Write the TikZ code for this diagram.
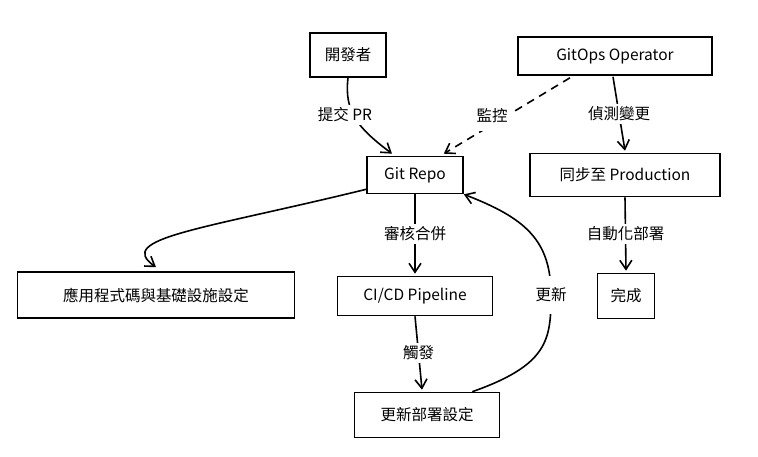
\documentclass[tikz,border=0pt]{standalone}
\usepackage{fontspec}
\setmainfont{Noto Sans CJK TC}
\usetikzlibrary{arrows.meta,calc}
\tikzset{
  box/.style={draw, line width=1.6pt, inner sep=0pt, font=\fontsize{15.5}{18}\selectfont},
  lbl/.style={fill=white, inner sep=3pt, font=\fontsize{15.5}{18}\selectfont},
  arr/.style={line width=1.6pt, -{Straight Barb[length=9pt,width=12pt,line width=1.6pt]}},
  conn/.style={line width=1.6pt}
}
\begin{document}
\begin{tikzpicture}[x=1pt,y=-1pt]
\useasboundingbox (0,0) rectangle (758,457);
% boxes
\node[box, minimum width=76pt, minimum height=44pt] (dev) at (348,55) {開發者};
\node[box, minimum width=194pt, minimum height=38pt] (ops) at (615,56) {GitOps Operator};
\node[box, minimum width=96pt, minimum height=37pt] (repo) at (415,175) {Git Repo};
\node[box, minimum width=190pt, minimum height=43pt] (sync) at (625,175) {同步至 Production};
\node[box, minimum width=277pt, minimum height=46pt] (app) at (156,295) {應用程式碼與基礎設施設定};
\node[box, minimum width=155pt, minimum height=39pt] (ci) at (415,296) {CI/CD Pipeline};
\node[box, minimum width=57pt, minimum height=45pt] (done) at (626,296) {完成};
\node[box, minimum width=145pt, minimum height=45pt] (upd) at (427,415) {更新部署設定};
% connectors
\draw[arr] (dev.south) .. controls (344,112) and (358,128) .. ($(repo.north)+(-23,-2)$);
\node[lbl] (l1) at (345,115) {提交 PR};
\draw[arr, dash pattern=on 8pt off 6pt] ($(ops.south)+(-45,2)$) -- ($(repo.north east)+(-20,-2)$);
\node[lbl, inner xsep=6pt, inner ysep=8pt] (l2) at (492,116) {監控};
\draw[arr] ($(ops.south)+(-2,1)$) -- node[lbl, pos=0.5] (l3) {偵測變更} ($(sync.north)+(0,-2)$);
\draw[arr] ($(repo.south west)+(0,-5)$) .. controls (200,230) and (115,238) .. ($(app.north)+(0,-4)$);
\draw[arr] (repo.south) -- node[lbl] (l4) {審核合併} ($(ci.north)+(0,-2)$);
\draw[arr] (ci.south) -- node[lbl] (l5) {觸發} ($(upd.north)+(-5,-2)$);
\draw[arr] ($(upd.north east)+(-28,0)$) .. controls (548,365) and (551,340) .. (551,295)
  .. controls (551,240) and (525,218) .. (repo.south east);
\node[lbl, inner ysep=12pt] (l6) at (551,295) {更新};
\draw[arr] (sync.south) -- node[lbl] (l7) {自動化部署} ($(done.north)+(0,-2)$);
\end{tikzpicture}
\end{document}
